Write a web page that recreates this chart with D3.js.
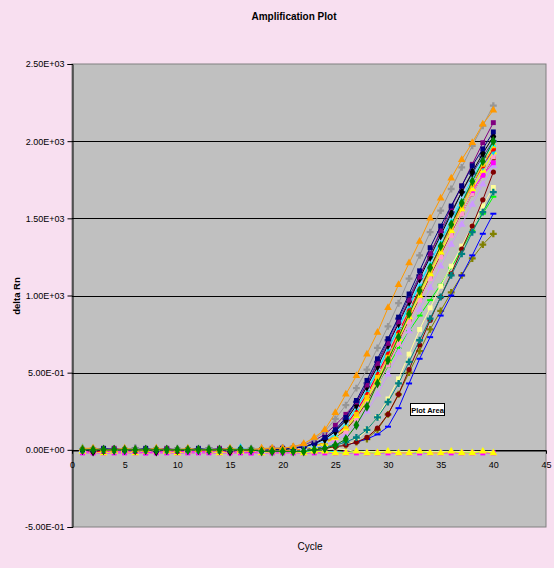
<!DOCTYPE html>
<html>
<head>
<meta charset="utf-8">
<script src="https://cdn.jsdelivr.net/npm/d3@7"></script>
<style>
  body { margin: 0; background: #f8dff0; }
  svg { display: block; font-family: "Liberation Sans", Arial, sans-serif; }
</style>
</head>
<body>
<svg id="chart" width="554" height="568"></svg>
<script>
// Cycle numbers on the x axis
const cycles = [1,2,3,4,5,6,7,8,9,10,11,12,13,14,15,16,17,18,19,20,21,22,23,24,25,26,27,28,29,30,31,32,33,34,35,36,37,38,39,40];

// Axis ticks and their printed labels
const xTicks = [0, 5, 10, 15, 20, 25, 30, 35, 40, 45];
const yTicks = [-0.5, 0, 0.5, 1, 1.5, 2, 2.5];
const yTickLabels = ["-5.00E-01", "0.00E+00", "5.00E-01", "1.00E+03", "1.50E+03", "2.00E+03", "2.50E+03"];

// delta Rn per well, cycles 1..40
const ntcMagenta = [-0.02,-0.02,-0.02,-0.02,-0.02,-0.02,-0.02,-0.02,-0.02,-0.02,-0.02,-0.02,-0.02,-0.02,-0.02,-0.02,-0.02,-0.02,-0.02,-0.02,-0.02,-0.02,-0.02,-0.02,-0.02,-0.02,-0.02,-0.02,-0.02,-0.02,-0.02,-0.02,-0.02,-0.02,-0.02,-0.02,-0.02,-0.02,-0.02,-0.02];
const ntcCyan = [-0.01,-0.01,-0.01,-0.01,-0.01,-0.01,-0.01,-0.01,-0.01,-0.01,-0.01,-0.01,-0.01,-0.01,-0.01,-0.01,-0.01,-0.01,-0.01,-0.01,-0.01,-0.01,-0.01,-0.01,-0.01,-0.02,-0.01,-0.01,-0.02,-0.01,-0.01,-0.01,-0.02,-0.01,-0.01,-0.01,-0.01,-0.02,-0.01,-0.01];
const ntcPale = [0.00,0.00,0.00,0.00,0.00,0.00,0.00,0.00,0.00,0.00,0.00,0.00,0.00,0.00,0.00,0.00,0.00,0.00,0.00,0.00,0.00,0.00,0.00,0.00,0.01,0.00,-0.01,-0.01,-0.01,-0.01,-0.01,-0.01,-0.01,-0.01,-0.01,-0.01,-0.01,-0.01,-0.01,-0.01];
const ntcYellow = [-0.01,-0.01,-0.02,-0.01,-0.01,-0.02,-0.01,-0.01,-0.01,-0.02,-0.01,-0.01,-0.01,-0.02,-0.01,-0.01,-0.01,-0.02,-0.01,-0.01,-0.01,-0.02,-0.01,-0.01,-0.02,-0.02,-0.01,-0.02,-0.02,-0.01,-0.02,-0.02,-0.01,-0.02,-0.02,-0.01,-0.02,-0.02,-0.01,-0.02];

const olive = [0.00,0.00,0.00,0.00,0.00,0.00,0.00,0.00,0.00,0.00,0.00,0.00,0.00,0.00,0.00,0.00,0.00,0.00,0.00,0.00,0.00,0.00,0.00,0.01,0.02,0.03,0.05,0.07,0.13,0.23,0.36,0.50,0.64,0.78,0.90,1.02,1.13,1.24,1.33,1.40];
const blue = [0.00,0.00,0.00,0.00,0.00,0.00,0.00,0.00,0.00,0.00,0.00,0.00,0.00,0.00,0.00,0.00,0.00,0.00,0.00,0.00,0.00,0.00,0.00,0.01,0.02,0.03,0.05,0.07,0.10,0.15,0.27,0.43,0.59,0.73,0.87,1.00,1.13,1.26,1.40,1.53];
const lime = [0.00,0.00,0.00,0.00,0.00,0.00,0.00,0.00,0.00,0.00,0.00,0.00,0.00,0.00,0.00,0.00,0.00,0.00,-0.01,-0.01,0.00,0.01,0.02,0.04,0.08,0.13,0.20,0.31,0.42,0.54,0.66,0.77,0.87,0.97,1.07,1.18,1.30,1.42,1.53,1.64];
const paleYellow = [0.00,0.00,-0.01,0.00,0.00,0.00,0.00,-0.01,0.00,0.00,0.00,0.00,-0.01,0.00,0.00,0.00,0.00,-0.01,0.00,0.00,0.00,0.00,0.01,0.01,0.02,0.03,0.06,0.13,0.21,0.33,0.46,0.62,0.78,0.92,1.06,1.19,1.32,1.45,1.58,1.70];
const maroon = [0.00,-0.01,0.00,0.00,-0.01,0.00,0.00,0.00,-0.01,0.00,0.00,0.00,-0.01,0.00,0.00,0.00,-0.01,0.00,0.00,0.00,0.00,0.00,0.01,0.01,0.02,0.03,0.05,0.08,0.14,0.23,0.36,0.52,0.68,0.84,0.99,1.14,1.30,1.45,1.62,1.80];
const teal = [0.00,0.00,0.00,0.00,0.00,0.00,0.00,0.00,0.00,0.00,0.00,0.00,0.00,0.00,0.00,0.00,0.00,0.00,0.00,0.00,0.00,0.00,0.01,0.02,0.03,0.05,0.08,0.13,0.21,0.31,0.43,0.57,0.71,0.85,0.99,1.13,1.27,1.41,1.54,1.67];

const violet = [0.00,0.00,0.00,0.00,0.00,-0.01,0.00,0.00,0.00,0.00,0.00,-0.01,0.00,0.00,0.00,0.00,0.00,-0.01,0.00,0.00,0.00,0.01,0.02,0.03,0.06,0.10,0.16,0.25,0.36,0.49,0.63,0.77,0.91,1.05,1.19,1.33,1.46,1.59,1.72,1.84];
const brown = [0.00,0.00,0.00,0.00,0.00,0.00,0.00,0.00,0.00,0.00,-0.01,0.00,0.00,0.00,0.00,0.00,0.00,0.00,0.00,-0.01,0.00,0.01,0.02,0.04,0.08,0.13,0.21,0.31,0.43,0.56,0.70,0.84,0.98,1.12,1.26,1.40,1.53,1.66,1.78,1.89];
const pink = [-0.01,-0.01,0.00,-0.01,-0.01,0.00,-0.01,-0.01,0.00,-0.01,-0.01,-0.01,0.00,-0.01,-0.01,0.00,-0.01,-0.01,-0.01,-0.01,0.00,0.01,0.02,0.04,0.07,0.12,0.20,0.30,0.42,0.55,0.69,0.83,0.97,1.11,1.25,1.39,1.53,1.66,1.78,1.90];
const magenta = [-0.01,-0.01,-0.01,-0.01,-0.01,-0.01,-0.02,-0.01,-0.01,-0.01,-0.01,-0.01,-0.01,-0.01,-0.01,-0.01,-0.02,-0.01,-0.01,-0.01,0.00,0.01,0.03,0.06,0.10,0.16,0.25,0.36,0.48,0.61,0.75,0.89,1.03,1.17,1.31,1.44,1.57,1.68,1.78,1.86];
const yellow = [-0.01,0.00,0.00,-0.01,0.00,0.00,0.00,0.00,-0.01,0.00,0.00,0.00,0.00,0.00,0.00,-0.01,0.00,0.00,0.00,0.00,0.00,0.01,0.02,0.04,0.08,0.14,0.22,0.33,0.45,0.58,0.72,0.86,1.00,1.14,1.28,1.42,1.56,1.69,1.81,1.93];
const sky = [0.01,0.00,0.00,0.00,0.00,0.00,0.00,0.00,0.00,0.00,0.00,0.00,0.00,0.00,0.00,0.01,0.00,0.00,0.00,0.00,0.01,0.02,0.03,0.06,0.11,0.18,0.27,0.38,0.51,0.65,0.79,0.93,1.07,1.21,1.35,1.48,1.61,1.73,1.84,1.94];
const red = [0.00,-0.01,-0.01,0.00,0.00,-0.01,0.00,0.00,0.00,-0.01,0.00,0.00,0.00,0.00,-0.01,0.00,0.00,0.00,-0.01,0.00,0.00,0.01,0.03,0.05,0.09,0.16,0.25,0.36,0.49,0.62,0.76,0.90,1.04,1.18,1.32,1.46,1.59,1.72,1.84,1.95];
const gold = [0.00,0.00,0.00,0.00,0.00,0.00,-0.01,0.00,0.00,0.00,0.00,0.00,0.00,-0.01,0.00,0.00,0.00,0.00,0.00,0.00,0.00,0.01,0.03,0.05,0.09,0.15,0.23,0.34,0.47,0.60,0.74,0.88,1.02,1.16,1.30,1.44,1.58,1.72,1.85,1.97];
const cyan = [0.00,0.00,0.00,0.00,0.00,0.00,0.00,0.00,0.00,0.00,0.00,0.00,0.00,0.00,0.00,0.00,0.00,0.00,0.00,0.00,0.01,0.02,0.03,0.06,0.10,0.17,0.27,0.39,0.52,0.66,0.80,0.94,1.08,1.22,1.36,1.50,1.63,1.76,1.88,1.98];
const lightBlue = [0.00,0.00,0.00,0.00,0.01,0.00,0.00,0.00,0.00,0.00,0.01,0.00,0.00,0.00,0.00,0.00,0.01,0.00,0.00,0.00,0.01,0.01,0.03,0.06,0.11,0.18,0.28,0.40,0.53,0.67,0.81,0.95,1.09,1.23,1.37,1.51,1.64,1.77,1.89,2.01];
const darkBlue = [0.00,0.00,0.00,0.00,0.00,0.01,0.00,0.00,0.00,0.00,0.00,0.00,0.01,0.00,0.00,0.00,0.00,0.00,0.00,0.01,0.01,0.02,0.04,0.07,0.12,0.20,0.31,0.43,0.57,0.71,0.85,0.99,1.13,1.27,1.41,1.54,1.67,1.79,1.90,2.00];
const black = [0.00,-0.01,0.00,0.00,0.00,0.00,0.00,-0.01,0.00,0.00,0.00,0.00,0.00,0.00,-0.01,0.00,0.00,0.00,0.00,0.00,0.01,0.02,0.04,0.07,0.12,0.19,0.29,0.41,0.54,0.68,0.82,0.96,1.11,1.25,1.39,1.53,1.67,1.80,1.92,2.03];
const purple = [0.00,0.00,0.00,0.01,0.00,0.00,0.00,0.00,0.01,0.00,0.00,0.00,0.00,0.01,0.00,0.00,0.00,0.00,0.01,0.01,0.01,0.03,0.06,0.10,0.16,0.23,0.31,0.42,0.56,0.69,0.83,0.97,1.12,1.27,1.42,1.57,1.71,1.85,1.99,2.12];
const navy = [0.00,0.00,0.01,0.00,0.00,0.00,0.01,0.00,0.00,0.00,0.00,0.01,0.00,0.00,0.00,0.00,0.00,0.00,0.00,0.01,0.01,0.02,0.04,0.08,0.13,0.21,0.32,0.45,0.59,0.72,0.86,1.01,1.16,1.31,1.45,1.58,1.71,1.84,1.95,2.06];
const gray = [0.00,0.01,0.00,0.00,0.00,0.01,0.00,0.00,0.00,0.01,0.00,0.00,0.01,0.00,0.00,0.00,0.01,0.00,0.01,0.01,0.02,0.03,0.07,0.12,0.20,0.29,0.40,0.52,0.66,0.80,0.95,1.11,1.26,1.41,1.55,1.69,1.83,1.97,2.10,2.23];
const orange = [0.01,0.01,0.00,0.00,0.01,0.00,0.00,0.01,0.00,0.00,0.01,0.00,0.00,0.00,0.01,0.00,0.00,0.01,0.01,0.01,0.02,0.04,0.08,0.13,0.24,0.36,0.48,0.62,0.76,0.92,1.07,1.21,1.35,1.50,1.63,1.76,1.88,1.99,2.11,2.20];
const darkGreen = [0.00,0.00,0.00,0.00,0.00,0.00,0.00,0.00,0.00,0.00,0.00,0.00,0.00,0.00,0.00,0.00,0.00,-0.01,-0.01,-0.01,-0.01,-0.01,0.00,0.01,0.03,0.07,0.16,0.28,0.43,0.58,0.73,0.88,1.03,1.18,1.32,1.46,1.60,1.74,1.87,2.00];

// Wells in drawing order, with their line colour and marker shape
const wells = [
  { values: ntcMagenta, color: "#ff00ff", marker: "square" },
  { values: ntcCyan,    color: "#00ffff", marker: "none" },
  { values: ntcPale,    color: "#ffff99", marker: "none" },
  { values: ntcYellow,  color: "#ffff00", marker: "triangle" },
  { values: olive,      color: "#808000", marker: "plus" },
  { values: blue,       color: "#0000ff", marker: "dash" },
  { values: lime,       color: "#00ff00", marker: "dash" },
  { values: paleYellow, color: "#ffff99", marker: "square" },
  { values: maroon,     color: "#800000", marker: "circle" },
  { values: teal,       color: "#008080", marker: "plus" },
  { values: violet,     color: "#cc99ff", marker: "triangle" },
  { values: brown,      color: "#993300", marker: "circle" },
  { values: pink,       color: "#ff99cc", marker: "square" },
  { values: magenta,    color: "#ff00ff", marker: "square" },
  { values: yellow,     color: "#ffff00", marker: "triangle" },
  { values: sky,        color: "#00ccff", marker: "diamond" },
  { values: red,        color: "#ff0000", marker: "circle" },
  { values: gold,       color: "#ffcc00", marker: "square" },
  { values: cyan,       color: "#00ffff", marker: "x" },
  { values: lightBlue,  color: "#99ccff", marker: "triangle" },
  { values: darkBlue,   color: "#333399", marker: "plus" },
  { values: black,      color: "#000000", marker: "diamond" },
  { values: purple,     color: "#800080", marker: "square" },
  { values: navy,       color: "#000080", marker: "square" },
  { values: gray,       color: "#969696", marker: "plus" },
  { values: orange,     color: "#ff9900", marker: "triangle" },
  { values: darkGreen,  color: "#008000", marker: "diamond" }
];

const svg = d3.select("#chart");
const plot = { left: 72, right: 546, top: 64, bottom: 527 };

const x = d3.scaleLinear().domain([0, 45]).range([plot.left, plot.right]);
const y = d3.scaleLinear().domain([-0.5, 2.5]).range([plot.bottom, plot.top]);

// Plot area
svg.append("rect")
  .attr("x", plot.left).attr("y", plot.top)
  .attr("width", plot.right - plot.left).attr("height", plot.bottom - plot.top)
  .attr("fill", "#c0c0c0").attr("stroke", "#808080").attr("stroke-width", 1);

// Horizontal gridlines
svg.append("g").selectAll("line")
  .data(yTicks.filter(v => v > -0.5 && v < 2.5))
  .join("line")
  .attr("x1", plot.left).attr("x2", plot.right)
  .attr("y1", d => Math.round(y(d)) + 0.5).attr("y2", d => Math.round(y(d)) + 0.5)
  .attr("stroke", "#000").attr("stroke-width", 1);

// Y axis
const yAxis = svg.append("g")
  .attr("transform", `translate(${plot.left + 0.5},0)`)
  .call(d3.axisLeft(y).tickValues(yTicks).tickSize(5).tickPadding(3)
    .tickFormat((d, i) => yTickLabels[i]));
yAxis.select(".domain").attr("stroke", "#000");
yAxis.selectAll("text").attr("font-size", 9).attr("fill", "#000")
  .attr("font-family", "'Liberation Sans', Arial, sans-serif");

// X axis along the zero line
const xAxis = svg.append("g")
  .attr("transform", `translate(0,${Math.round(y(0)) + 0.5})`)
  .call(d3.axisBottom(x).tickValues(xTicks).tickSize(3).tickPadding(8).tickFormat(d3.format("d")));
xAxis.select(".domain").attr("stroke", "#000");
xAxis.selectAll("text").attr("font-size", 9).attr("fill", "#000")
  .attr("font-family", "'Liberation Sans', Arial, sans-serif");

// Marker shapes
const markerPath = {
  square: d3.symbol(d3.symbolSquare, 24)(),
  diamond: d3.symbol(d3.symbolDiamond, 30)(),
  triangle: d3.symbol(d3.symbolTriangle, 26)(),
  circle: d3.symbol(d3.symbolCircle, 22)(),
  plus: d3.symbol(d3.symbolCross, 26)(),
  x: "M-2.5,-2.5L2.5,2.5M-2.5,2.5L2.5,-2.5",
  dash: "M-3,-1H3V1H-3Z"
};

const line = d3.line().x((d, i) => x(cycles[i])).y(d => y(d));

const series = svg.append("g").selectAll("g").data(wells).join("g");
series.append("path")
  .attr("d", d => line(d.values))
  .attr("fill", "none")
  .attr("stroke", d => d.color)
  .attr("stroke-width", 1);

series.each(function(w) {
  if (w.marker === "none") return;
  d3.select(this).selectAll("path.mk")
    .data(w.values)
    .join("path")
    .attr("class", "mk")
    .attr("transform", (v, i) => `translate(${x(cycles[i])},${y(v)})`)
    .attr("d", markerPath[w.marker])
    .attr("fill", w.marker === "x" ? "none" : w.color)
    .attr("stroke", w.marker === "x" ? w.color : "none")
    .attr("stroke-width", 1.2);
});

// Titles
svg.append("text")
  .attr("x", 294).attr("y", 20)
  .attr("text-anchor", "middle")
  .attr("font-size", 10).attr("font-weight", "bold")
  .text("Amplification Plot");

svg.append("text")
  .attr("transform", "translate(20,296) rotate(-90)")
  .attr("text-anchor", "middle")
  .attr("font-size", 9.5).attr("font-weight", "bold")
  .text("delta Rn");

svg.append("text")
  .attr("x", 310).attr("y", 550)
  .attr("text-anchor", "middle")
  .attr("font-size", 10)
  .text("Cycle");

// Hover tag
const tag = svg.append("g").attr("transform", "translate(410,403)");
tag.append("rect")
  .attr("x", 0.5).attr("y", 0.5).attr("width", 34).attr("height", 12)
  .attr("fill", "#fff").attr("stroke", "#000").attr("stroke-width", 1);
tag.append("text")
  .attr("x", 17.5).attr("y", 9.5)
  .attr("text-anchor", "middle")
  .attr("font-size", 7.5).attr("font-weight", "bold")
  .text("Plot Area");
</script>
</body>
</html>
